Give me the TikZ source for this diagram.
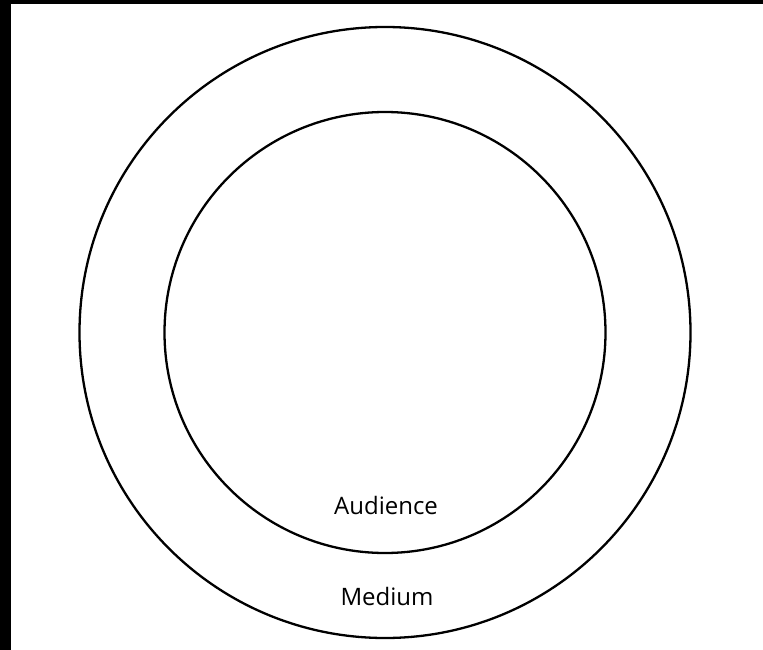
\documentclass[tikz,border=0pt]{standalone}
\usepackage{fontspec}
\setmainfont{Open Sans}
\begin{document}
\begin{tikzpicture}[x=1pt, y=-1pt, ring/.style={circle, draw, line width=2.3pt, inner sep=0pt}]
  % Frame and dark edges
  \useasboundingbox (0,0) rectangle (763,650);
  \fill[white] (0,0) rectangle (763,650);
  \fill[black] (0,0) rectangle (11,650);
  \fill[black] (0,0) rectangle (763,4);
  % Rings
  \coordinate (centre) at (385,332.5);
  \node[ring, minimum size=611pt] (medium) at (centre) {};
  \node[ring, minimum size=441pt] (audience) at (centre) {};
  % Labels
  \node[font=\fontsize{24}{27}\selectfont, anchor=base] (audlabel) at (386,514) {Audience};
  \node[font=\fontsize{24}{27}\selectfont, anchor=base] (medlabel) at (387,605) {Medium};
\end{tikzpicture}
\end{document}
